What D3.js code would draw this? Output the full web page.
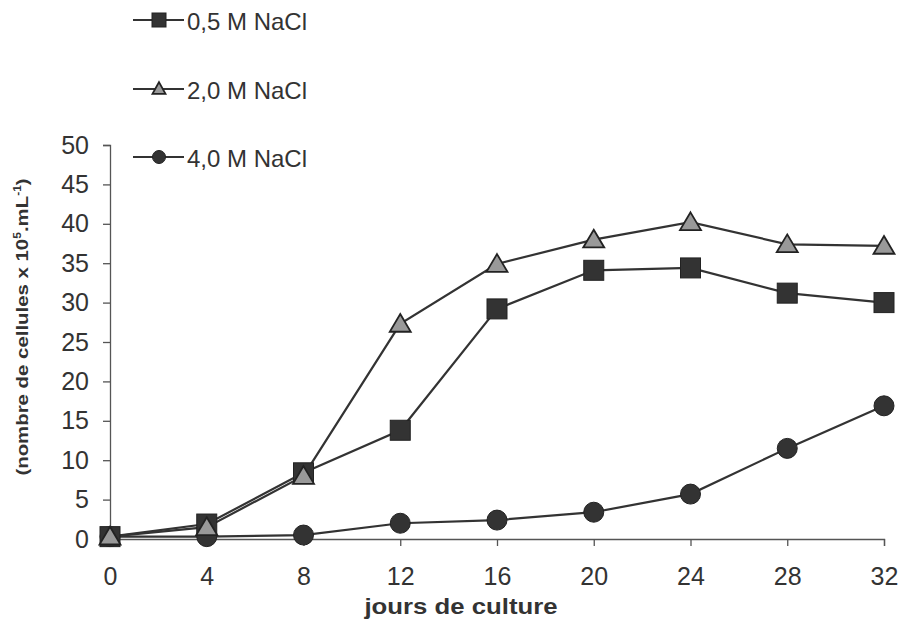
<!DOCTYPE html>
<html><head><meta charset="utf-8">
<script src="https://cdn.jsdelivr.net/npm/d3@7"></script>
<style>body{margin:0;background:#fff}svg{display:block}text{font-family:"Liberation Sans",Arial,sans-serif}</style>
</head><body>
<svg id="c" width="902" height="621"></svg>
<script>
const days = [0,4,8,12,16,20,24,28,32];
const seriesNames = ["0,5 M NaCl","2,0 M NaCl","4,0 M NaCl"];
const nacl05 = [0.3,1.9,8.4,13.8,29.2,34.1,34.4,31.2,30.0];
const nacl20 = [0.3,1.5,8.0,27.3,34.9,38.0,40.2,37.4,37.2];
const nacl40 = [0.3,0.3,0.5,2.0,2.4,3.4,5.7,11.5,16.9];
const yTicks = [0,5,10,15,20,25,30,35,40,45,50];
const xTicks = [0,4,8,12,16,20,24,28,32];

const svg = d3.select("#c");
const x = d3.scaleLinear().domain([0,32]).range([110,884]);
const y = d3.scaleLinear().domain([0,50]).range([539,145]);
const ink = "#333";

// axes
const ya = svg.append("g").attr("transform","translate(110,0)")
  .call(d3.axisLeft(y).tickValues(yTicks).tickSize(7).tickPadding(14));
const xa = svg.append("g").attr("transform","translate(0,539)")
  .call(d3.axisBottom(x).tickValues(xTicks).tickSize(7).tickPadding(21));
[ya,xa].forEach(a=>{
  a.selectAll("path,line").attr("stroke","#555").attr("stroke-width",1.3);
  a.selectAll("text").attr("fill",ink).style("font-size","25px");
});

// axis titles
svg.append("text").attr("transform","translate(461,614) scale(1.12,1)").attr("text-anchor","middle")
  .attr("fill",ink).style("font-size","23px").style("font-weight","bold").text("jours de culture");
const yt = svg.append("text").attr("transform","translate(28,327) rotate(-90) scale(1.2,1)")
  .attr("text-anchor","middle").attr("fill",ink).style("font-size","17px").style("font-weight","bold");
yt.append("tspan").text("(nombre de cellules x 10");
yt.append("tspan").attr("dy",-7).style("font-size","10px").text("5");
yt.append("tspan").attr("dy",7).text(".mL");
yt.append("tspan").attr("dy",-7).style("font-size","10px").text("-1");
yt.append("tspan").attr("dy",7).text(")");

const line = d3.line().x((d,i)=>x(days[i])).y(d=>y(d));
const data = [
  {vals:nacl40, shape:"circle"},
  {vals:nacl05, shape:"square"},
  {vals:nacl20, shape:"triangle"}
];
function marker(g, shape, cx, cy, s){
  if(shape==="square") g.append("rect").attr("x",cx-s/2).attr("y",cy-s/2).attr("width",s).attr("height",s)
     .attr("fill","#333").attr("stroke","#222").attr("stroke-width",1);
  else if(shape==="circle") g.append("circle").attr("cx",cx).attr("cy",cy).attr("r",s/2)
     .attr("fill","#333").attr("stroke","#222").attr("stroke-width",1);
  else { const h=s*0.75, w=s;
     g.append("path").attr("d",`M${cx},${cy-h/2-2}L${cx+w/2},${cy+h/2}L${cx-w/2},${cy+h/2}Z`)
     .attr("fill","#999").attr("stroke","#222").attr("stroke-width",1.8); }
}
data.forEach(s=>{
  svg.append("path").datum(s.vals).attr("d",line).attr("fill","none").attr("stroke",ink).attr("stroke-width",2.2);
});
data.forEach(s=>{
  const g = svg.append("g");
  s.vals.forEach((v,i)=>marker(g,s.shape,x(days[i]),y(v),s.shape==="triangle"?21:20));
});

// legend
const legShapes = ["square","triangle","circle"];
const legY = [20,89,157];
seriesNames.forEach((n,i)=>{
  const g = svg.append("g");
  g.append("line").attr("x1",133).attr("x2",184).attr("y1",legY[i]).attr("y2",legY[i]).attr("stroke",ink).attr("stroke-width",2);
  marker(g, legShapes[i], 159, legY[i], legShapes[i]==="square"?14:13);
  g.append("text").attr("x",187).attr("y",legY[i]+10).attr("fill",ink).style("font-size","24px").text(n);
});
</script>
</body></html>
